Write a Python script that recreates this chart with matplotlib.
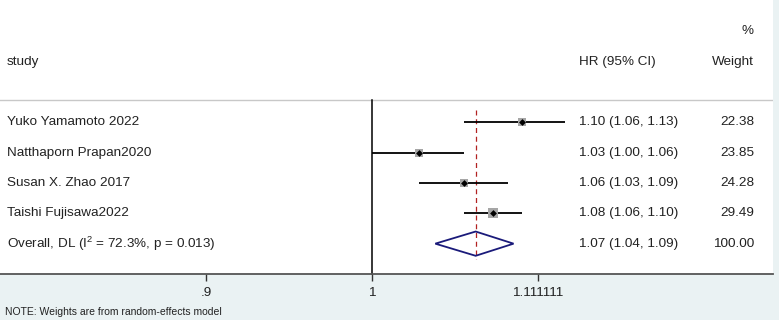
import matplotlib
matplotlib.use("Agg")
import matplotlib.pyplot as plt
import numpy as np
from matplotlib.transforms import blended_transform_factory
from matplotlib.patches import Polygon

plt.rcParams['font.family'] = ['Liberation Sans', 'DejaVu Sans']

studies = ["Yuko Yamamoto 2022", "Natthaporn Prapan2020", "Susan X. Zhao 2017", "Taishi Fujisawa2022"]
hr = [1.10, 1.03, 1.06, 1.08]
lo = [1.06, 1.00, 1.03, 1.06]
hi = [1.13, 1.06, 1.09, 1.10]
weights = [22.38, 23.85, 24.28, 29.49]
hr_text = ["1.10 (1.06, 1.13)", "1.03 (1.00, 1.06)", "1.06 (1.03, 1.09)", "1.08 (1.06, 1.10)"]
overall_label = "Overall, DL ($\\mathregular{I^2}$ = 72.3%, p = 0.013)"
overall_est, overall_lo, overall_hi = 1.068, 1.041, 1.094
overall_text = "1.07 (1.04, 1.09)"
overall_weight = "100.00"
tick_vals = [0.9, 1.0, 1.111111]
tick_labels = [".9", "1", "1.111111"]

W, H = 779, 320
fig = plt.figure(figsize=(W/100, H/100), dpi=100)
fig.patch.set_facecolor('#eaf2f3')

ax_w = 773
ax_h = 274
ax = fig.add_axes([0, (H-ax_h)/H, ax_w/W, ax_h/H])
ax.set_facecolor('white')
ax.set_xscale('log')
ppl = 1575.6  # pixels per log unit
x1 = 372
ax.set_xlim(np.exp(-x1/ppl), np.exp((ax_w-x1)/ppl))
ax.set_ylim(5.0, -4.03)

for s in ['top', 'right', 'left']:
    ax.spines[s].set_visible(False)
ax.spines['bottom'].set_color('#555555')
ax.spines['bottom'].set_linewidth(1.3)
ax.set_yticks([])
ax.xaxis.set_minor_locator(matplotlib.ticker.NullLocator())
ax.set_xticks(tick_vals)
ax.set_xticklabels(tick_labels)
ax.tick_params(axis='x', direction='out', length=5, width=1, color='#333333',
               labelsize=9.7, labelcolor='#222222', pad=4)

fs = 9.7
tx = blended_transform_factory(ax.transAxes, ax.transData)
x_lab = 7/ax_w
x_hr = 579/ax_w
x_w = 754/ax_w

# header
ax.text(x_lab, -2, "study", transform=tx, ha='left', va='center', fontsize=fs, color='#222222')
ax.text(x_hr, -2, "HR (95% CI)", transform=tx, ha='left', va='center', fontsize=fs, color='#222222')
ax.text(x_w, -2, "Weight", transform=tx, ha='right', va='center', fontsize=fs, color='#222222')
ax.text(x_w, -3, "%", transform=tx, ha='right', va='center', fontsize=fs, color='#222222')

# separator
ax.axhline(-0.73, color='#c8c8c8', lw=1.0)

# null line
ax.plot([1, 1], [-0.73, 5.0], color='black', lw=1.1, clip_on=False)

# overall dashed line
ax.plot([overall_est, overall_est], [-0.4, 4.49], color='#b22222', lw=0.9, ls=(0, (4, 3)))

for i, (n, e, l, h, w, t) in enumerate(zip(studies, hr, lo, hi, weights, hr_text)):
    ax.plot([l, h], [i, i], color='black', lw=1.3, solid_capstyle='butt')
    ax.scatter([e], [i], marker='s', s=w*1.6, color='#a6a6a6', zorder=3, linewidths=0)
    ax.scatter([e], [i], marker='D', s=12, color='black', zorder=4, linewidths=0)
    ax.text(x_lab, i, n, transform=tx, ha='left', va='center', fontsize=fs, color='#222222')
    ax.text(x_hr, i, t, transform=tx, ha='left', va='center', fontsize=fs, color='#222222')
    ax.text(x_w, i, f"{w:.2f}", transform=tx, ha='right', va='center', fontsize=fs, color='#222222')

yo = 4
diamond = Polygon([[overall_lo, yo], [overall_est, yo-0.4], [overall_hi, yo], [overall_est, yo+0.4]],
                  closed=True, fill=False, edgecolor='#1a1a7a', lw=1.3, zorder=3)
ax.add_patch(diamond)
ax.text(x_lab, yo, overall_label, transform=tx, ha='left', va='center', fontsize=fs, color='#222222')
ax.text(x_hr, yo, overall_text, transform=tx, ha='left', va='center', fontsize=fs, color='#222222')
ax.text(x_w, yo, overall_weight, transform=tx, ha='right', va='center', fontsize=fs, color='#222222')

fig.text(5/W, 1-312/H, "NOTE: Weights are from random-effects model", ha='left', va='center',
         fontsize=7.5, color='#222222')

fig.savefig("out.png", dpi=100, facecolor=fig.get_facecolor())
